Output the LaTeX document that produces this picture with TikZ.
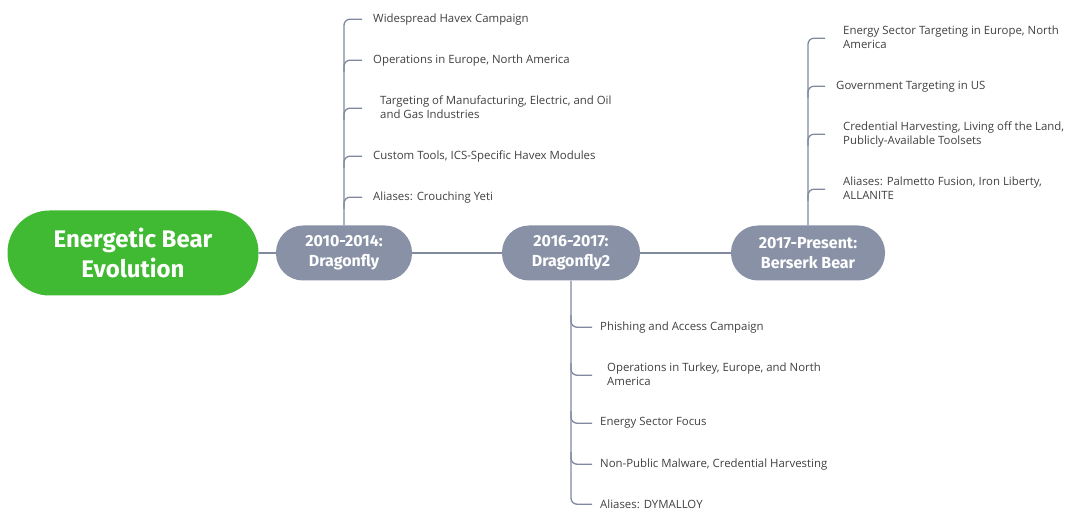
\documentclass[tikz,border=0pt]{standalone}
\usepackage{fontspec}
\setmainfont{Open Sans}
\newfontfamily\headfont{Fira Sans}
\usetikzlibrary{calc}
\definecolor{rootgreen}{RGB}{64,186,50}
\definecolor{topicgray}{RGB}{136,145,166}
\definecolor{linegray}{RGB}{128,137,158}
\definecolor{leafgray}{RGB}{64,64,64}
\begin{document}
\begin{tikzpicture}[x=1pt,y=-1pt,
  rootbox/.style={fill=rootgreen, rounded corners=42pt, minimum width=251pt, minimum height=85pt, text=white, font=\headfont\bfseries\fontsize{24}{30}\selectfont, align=center, inner sep=0pt},
  topicbox/.style={fill=topicgray, rounded corners=27pt, minimum height=55pt, text=white, font=\headfont\bfseries\fontsize{16}{20}\selectfont, align=center, inner sep=0pt},
  leaf/.style={anchor=west, text=leafgray, font=\fontsize{11.4}{15}\selectfont, align=left, inner ysep=0pt, inner xsep=0pt, yshift=-1.2pt},
  conn/.style={draw=linegray, line width=1.3pt},
  tick/.style={conn, rounded corners=6pt}]
\useasboundingbox (0,0) rectangle (1068,510);

% main nodes
\node[rootbox] (root) at (133,253) {Energetic Bear\\Evolution};
\node[topicbox, minimum width=136pt] (n1) at (344,253) {2010-2014:\\Dragonfly};
\node[topicbox, minimum width=138pt] (n2) at (571,253) {2016-2017:\\Dragonfly2};
\node[topicbox, minimum width=154pt] (n3) at (808,253) {2017-Present:\\Berserk Bear};

\draw[conn] (root) -- (n1);
\draw[conn] (n1) -- (n2);
\draw[conn] (n2) -- (n3);

% branch 1 leaves
\node[leaf] (a1) at (362,18) {\hspace{11pt}Widespread Havex Campaign};
\node[leaf] (a2) at (362,59) {\hspace{11pt}Operations in Europe, North America};
\node[leaf] (a3) at (362,107) {\hspace{18pt}\begin{tabular}{@{}l@{}}Targeting of Manufacturing, Electric, and Oil\\[-1pt]and Gas Industries\end{tabular}};
\node[leaf] (a4) at (362,155) {\hspace{11pt}Custom Tools, ICS-Specific Havex Modules};
\node[leaf] (a5) at (362,196) {\hspace{11pt}Aliases: Crouching Yeti};

\draw[tick] (n1.north) -- (n1.north |- a1.west) -- (a1.west);
\foreach \l in {a2,a3,a4,a5}{
  \draw[tick] ($(n1.north |- \l.west)+(0,12)$) -- (n1.north |- \l.west) -- (\l.west);
}

% branch 2 leaves
\node[leaf] (b1) at (592,326) {\hspace{8pt}Phishing and Access Campaign};
\node[leaf] (b2) at (592,374) {\hspace{15pt}\begin{tabular}{@{}l@{}}Operations in Turkey, Europe, and North\\[-1pt]America\end{tabular}};
\node[leaf] (b3) at (592,422) {\hspace{8pt}Energy Sector Focus};
\node[leaf] (b4) at (592,463) {\hspace{8pt}Non-Public Malware, Credential Harvesting};
\node[leaf] (b5) at (592,503) {\hspace{8pt}Aliases: DYMALLOY};

\draw[tick] (n2.south) -- (n2.south |- b5.west) -- (b5.west);
\foreach \l in {b1,b2,b3,b4}{
  \draw[tick] ($(n2.south |- \l.west)+(0,-12)$) -- (n2.south |- \l.west) -- (\l.west);
}

% branch 3 leaves
\node[leaf] (c1) at (825,37) {\hspace{18pt}\begin{tabular}{@{}l@{}}Energy Sector Targeting in Europe, North\\[-1pt]America\end{tabular}};
\node[leaf] (c2) at (825,85) {\hspace{11pt}Government Targeting in US};
\node[leaf] (c3) at (825,133) {\hspace{18pt}\begin{tabular}{@{}l@{}}Credential Harvesting, Living off the Land,\\[-1pt]Publicly-Available Toolsets\end{tabular}};
\node[leaf] (c4) at (825,188) {\hspace{18pt}\begin{tabular}{@{}l@{}}Aliases: Palmetto Fusion, Iron Liberty,\\[-1pt]ALLANITE\end{tabular}};

\draw[tick] (n3.north) -- (n3.north |- c1.west) -- (c1.west);
\foreach \l in {c2,c3,c4}{
  \draw[tick] ($(n3.north |- \l.west)+(0,12)$) -- (n3.north |- \l.west) -- (\l.west);
}
\end{tikzpicture}
\end{document}
